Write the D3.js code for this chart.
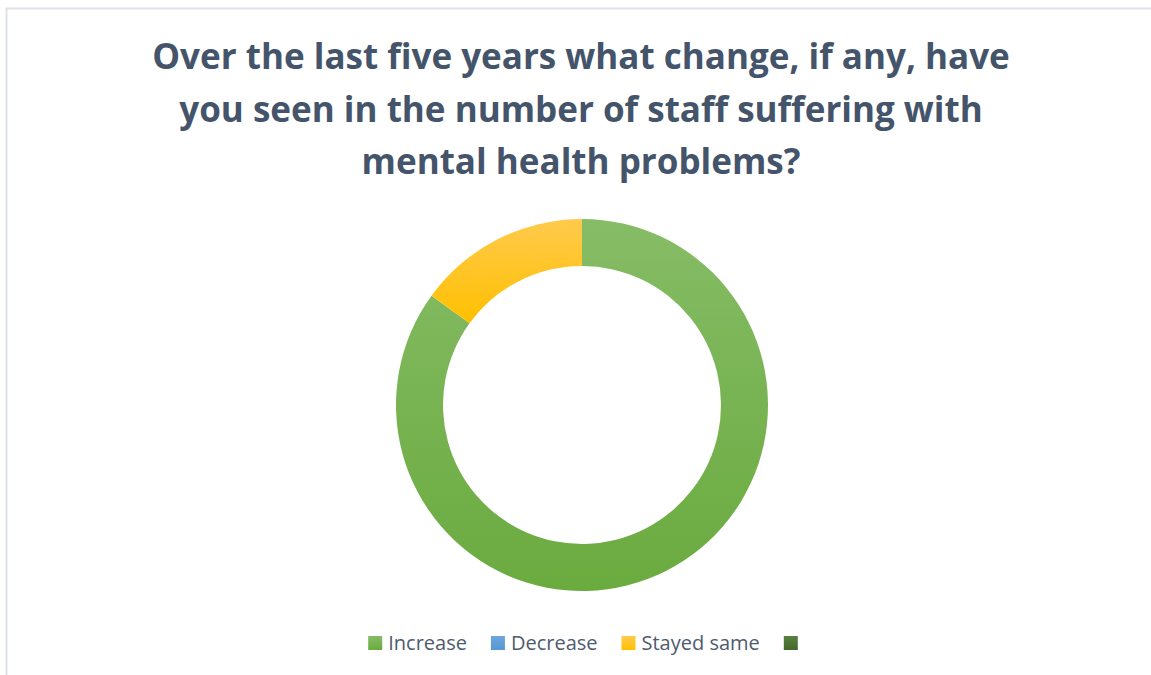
<!DOCTYPE html>
<html>
<head>
<meta charset="utf-8">
<script src="https://cdn.jsdelivr.net/npm/d3@7"></script>
<style>
  body { margin: 0; background: #fff; }
  svg { display: block; }
</style>
</head>
<body>
<script>
// chart values
const categories = ["Increase", "Decrease", "Stayed same", ""];
const values = [85, 0, 15, 0];
const titleLines = [
  "Over the last five years what change, if any, have",
  "you seen in the number of staff suffering with",
  "mental health problems?",
];
const colorsTop = ["#86bc66", "#6ea6da", "#ffca4d", "#5a8040"];
const colorsBottom = ["#6aab3f", "#5597d3", "#ffc000", "#44682c"];

const width = 1151;
const height = 675;
const cx = 582;
const cy = 405;
const outerR = 186;
const innerR = 139;

const svg = d3.select("body").append("svg")
  .attr("width", width)
  .attr("height", height);

const defs = svg.append("defs");
categories.forEach((c, i) => {
  const g = defs.append("linearGradient")
    .attr("id", `grad${i}`)
    .attr("x1", 0).attr("y1", 0).attr("x2", 0).attr("y2", 1);
  g.append("stop").attr("offset", "0%").attr("stop-color", colorsTop[i]);
  g.append("stop").attr("offset", "100%").attr("stop-color", colorsBottom[i]);
});

// chart frame (only left and top edges visible in the crop)
svg.append("path")
  .attr("d", `M6.5 ${height} V8.5 H${width}`)
  .attr("fill", "none")
  .attr("stroke", "#dde2ea")
  .attr("stroke-width", 2);

// title
const title = svg.append("text")
  .attr("text-anchor", "middle")
  .attr("font-family", "'Open Sans', sans-serif")
  .attr("font-weight", 700)
  .attr("fill", "#44546a")
  .attr("font-size", 100);

title.selectAll("tspan")
  .data(titleLines)
  .join("tspan")
  .attr("x", 581)
  .attr("y", (d, i) => 69 + i * 52.5)
  .text((d) => d);

const firstLen = title.select("tspan").node().getComputedTextLength();
title.attr("font-size", 100 * 858 / firstLen);

// donut
const pie = d3.pie().sort(null).value((d) => d.value);
const arc = d3.arc().innerRadius(innerR).outerRadius(outerR);
const pieData = pie(categories.map((c, i) => ({ key: c, value: values[i], i })));

svg.append("g")
  .attr("transform", `translate(${cx} ${cy})`)
  .selectAll("path")
  .data(pieData.filter((d) => d.value > 0))
  .join("path")
  .attr("d", arc)
  .attr("fill", (d) => `url(#grad${d.data.i})`);

// legend
const legend = svg.append("g").attr("font-family", "'Open Sans', sans-serif");
const items = legend.selectAll("g")
  .data(categories)
  .join("g");

items.append("rect")
  .attr("width", 14)
  .attr("height", 14)
  .attr("y", -7)
  .attr("fill", (d, i) => `url(#grad${i})`);

items.append("text")
  .attr("x", 20)
  .attr("dy", "0.35em")
  .attr("font-size", 20)
  .attr("fill", "#4e5b6e")
  .text((d) => d);

let widths = [];
items.each(function () {
  const t = d3.select(this).select("text").node();
  widths.push(t.textContent ? 20 + t.getComputedTextLength() : 14);
});
const gap = 24;
const total = d3.sum(widths) + gap * (widths.length - 1);
let x = cx + 1 - total / 2;
items.attr("transform", (d, i) => {
  const tx = x;
  x += widths[i] + gap;
  return `translate(${tx} 643)`;
});
</script>
</body>
</html>
